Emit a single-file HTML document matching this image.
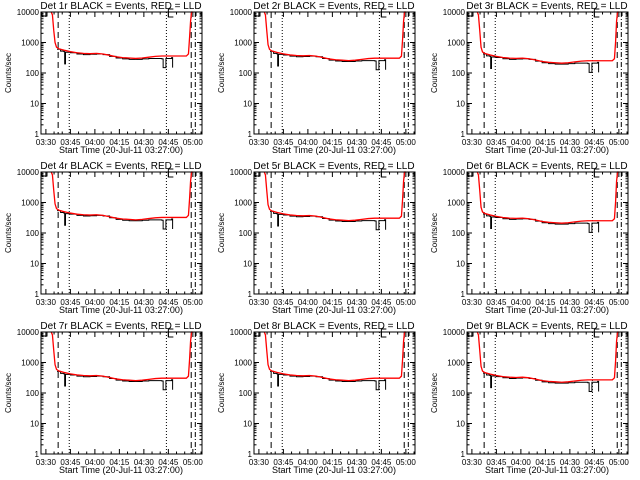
<!DOCTYPE html>
<html><head><meta charset="utf-8"><style>
body{margin:0;background:#fff;}
svg{display:block;font-family:"Liberation Sans",sans-serif;}
</style></head><body>
<svg id="c" width="640" height="480"></svg>
<script>
// minutes after 03:27:00
const redT=[6.3,7,7.8,8.6,9.5,11,14,18,22,26,30,34,38,42,46,50,54,58,62,66,70,74,78,82,86,89,90.3,91,91.6,92.2,93];
const redV=[20000,8000,2500,1000,700,620,560,500,460,440,430,440,420,380,340,320,310,300,310,330,350,360,360,360,360,360,420,1500,5000,10000,20000];
const blkT=[9.8,12,14,14.5,15,18,22,26,30,34,38,42,46,50,54,58,62,66,70,74,74.8,75.6,76.5,80,80.6];
const blkV=[600,520,500,200,480,460,420,400,410,420,400,350,310,290,280,280,290,300,300,290,150,150,300,320,150];
const panelScale=[1,0.85,0.7,0.9,0.85,0.7,0.85,0.85,0.75];
const xTickLabels=["03:30","03:45","04:00","04:15","04:30","04:45","05:00"];
const yTickLabels=["1","10","100","1000","10000"];
const NS="http://www.w3.org/2000/svg";
const svg=document.getElementById('c');
function mk(tag,attrs,parent){const e=document.createElementNS(NS,tag);for(const k in attrs)e.setAttribute(k,attrs[k]);(parent||svg).appendChild(e);return e;}
for(let p=0;p<9;p++){
  const ox=(p%3)*213, oy=Math.floor(p/3)*160;
  const L=ox+41,R=ox+202,T=oy+12,B=oy+134;
  const xs=m=>L+(m/98.6)*(R-L);
  const ys=v=>{const lv=Math.log10(Math.max(1,Math.min(v,10000)));return B-lv*(B-T)/4;};
  const g=mk('g',{});
  
  
  const t=mk('text',{x:ox+121,y:oy+9,'font-size':'10','text-anchor':'middle'},g);
  t.textContent='Det '+(p+1)+'r BLACK = Events, RED = LLD';
  
  
  const yl=mk('text',{x:0,y:0,'font-size':'8','text-anchor':'middle',transform:`translate(${ox+11},${oy+73}) rotate(-90)`},g);
  yl.textContent='Counts/sec';
  
  
  const xl=mk('text',{x:ox+121,y:oy+153,'font-size':'9','text-anchor':'middle'},g);
  xl.textContent='Start Time (20-Jul-11 03:27:00)';
  
  
  for(let d=0;d<5;d++){
    const y=ys(Math.pow(10,d));
    mk('line',{x1:L,x2:L+5,y1:y,y2:y,stroke:'#000'},g);
    mk('line',{x1:R,x2:R-5,y1:y,y2:y,stroke:'#000'},g);
    const lb=mk('text',{x:L-2,y:y+3,'font-size':'8','text-anchor':'end'},g);
    lb.textContent=yTickLabels[d];
    
    
    if(d<4)for(let k=2;k<10;k++){const yy=ys(k*Math.pow(10,d));
      mk('line',{x1:L,x2:L+2.5,y1:yy,y2:yy,stroke:'#000'},g);
      mk('line',{x1:R,x2:R-2.5,y1:yy,y2:yy,stroke:'#000'},g);}
  }
  for(let m=3;m<=98;m+=5){const x=xs(m);const major=((m-3)%15===0);const h=major?5:2.5;
    mk('line',{x1:x,x2:x,y1:B,y2:B-h,stroke:'#000'},g);
    mk('line',{x1:x,x2:x,y1:T,y2:T+h,stroke:'#000'},g);}
  for(let i=0;i<xTickLabels.length;i++){const x=xs(3+15*i);
    const lb=mk('text',{x:x,y:B+11,'font-size':'8','text-anchor':'middle'},g);
    lb.textContent=xTickLabels[i];
    
    }
  mk('line',{x1:xs(10.5),x2:xs(10.5),y1:T,y2:B,stroke:'#000','stroke-dasharray':'6,4'},g);
  mk('line',{x1:xs(17.3),x2:xs(17.3),y1:T,y2:B,stroke:'#000','stroke-dasharray':'1,2'},g);
  mk('line',{x1:xs(76.8),x2:xs(76.8),y1:T,y2:B,stroke:'#000','stroke-dasharray':'1,2'},g);
  mk('line',{x1:xs(92),x2:xs(92),y1:T,y2:B,stroke:'#000','stroke-dasharray':'6,4'},g);
  mk('line',{x1:xs(94.5),x2:xs(94.5),y1:T,y2:B,stroke:'#000','stroke-dasharray':'5,2,1,2'},g);
  mk('polyline',{points:`${L+1},${T+4} ${L+1},${T} ${L+6},${T} ${L+6},${T+4} ${L+1},${T+4}`,fill:'none',stroke:'#000'},g);
  mk('polyline',{points:`${xs(78)+5},${T-3} ${xs(78)},${T-3} ${xs(78)},${T+5} ${xs(78)+5},${T+5}`,fill:'none',stroke:'#000'},g);
  mk('polyline',{points:`${R-6},${T+4} ${R-6},${T} ${R-1},${T} ${R-1},${T+4}`,fill:'none',stroke:'#000'},g);
  const s=panelScale[p];
  const sc=v=>v*(v>=2000?1:s);
  const step=(T_,V_)=>{let pts=[];for(let i=0;i<T_.length;i++){const x=xs(T_[i]);const y=ys(sc(V_[i]));
    if(i>0)pts.push(x+','+pts[pts.length-1].split(',')[1]);pts.push(x+','+y);}return pts.join(' ');};
  const line=(T_,V_)=>T_.map((tt,i)=>xs(tt)+','+ys(sc(V_[i]))).join(' ');
  const bl=mk('polyline',{points:step(blkT,blkV),fill:'none',stroke:'#000','stroke-width':'1'},g);
  
  
  const rl=mk('polyline',{points:line(redT,redV),fill:'none',stroke:'#f00','stroke-width':'1.3'},g);
  
  
  mk('rect',{x:L,y:T,width:R-L,height:B-T,fill:'none',stroke:'#000'},g);
}
</script>
</body></html>
